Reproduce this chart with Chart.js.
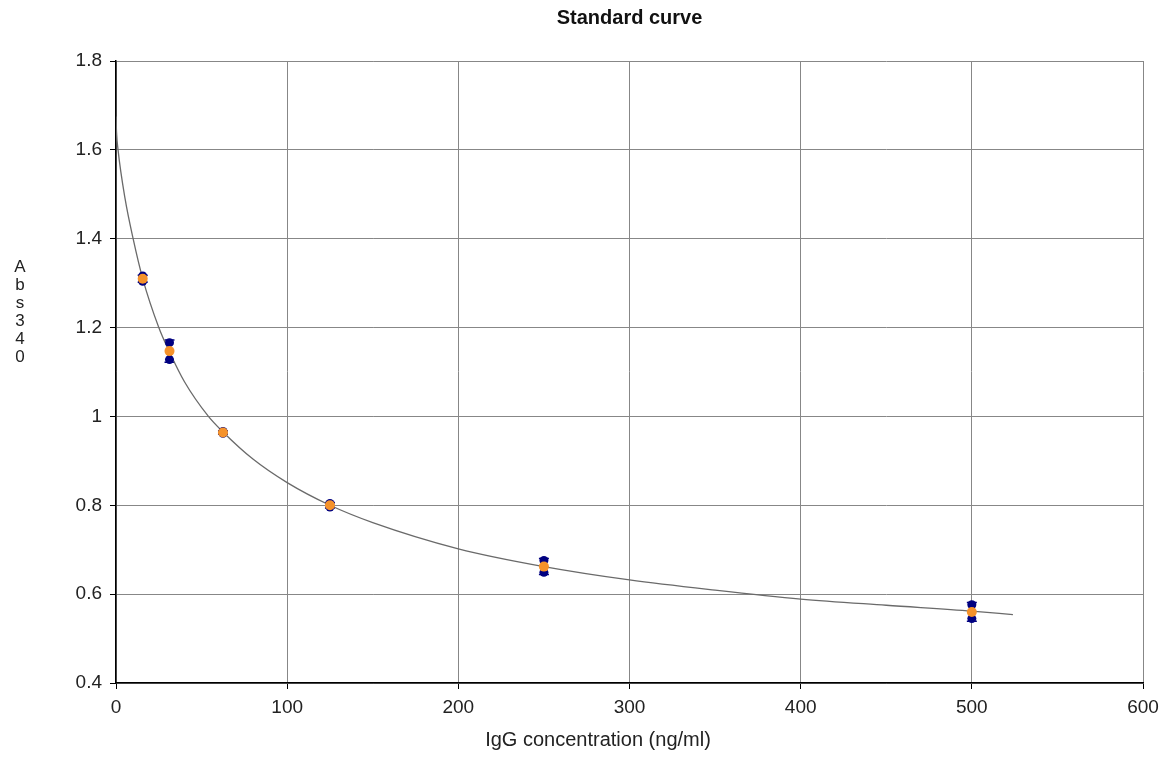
<!DOCTYPE html>
<html>
<head>
<meta charset="utf-8">
<title>Standard curve</title>
<script src="https://cdn.jsdelivr.net/npm/chart.js@4.4.1/dist/chart.umd.min.js"></script>
<style>
  html, body { margin: 0; padding: 0; background: #fff; }
  #wrap { width: 1168px; height: 761px; }
</style>
</head>
<body>
<div id="wrap"><canvas id="myChart" width="1168" height="761"></canvas></div>
<script>
  // Standards (ng/ml) and the absorbance readings
  const conc = [15.6, 31.25, 62.5, 125, 250, 500];
  const rep1 = [1.316, 1.166, 0.966, 0.804, 0.676, 0.576];
  const rep2 = [1.304, 1.128, 0.962, 0.796, 0.649, 0.545];
  const mean = [1.310, 1.147, 0.964, 0.800, 0.662, 0.560];
  const sd = [0.008, 0.025, 0.004, 0.006, 0.018, 0.021];

  // Fitted curve
  const fitX = [0, 0.3, 1.2, 5.3, 10, 15.6, 25, 31.25, 40, 54, 62.5, 80, 100, 125, 150, 200, 250, 300, 350, 400, 450, 500, 524];
  const fitY = [1.675, 1.64, 1.60, 1.49, 1.40, 1.31, 1.20, 1.145, 1.078, 1.00, 0.965, 0.904, 0.851, 0.80, 0.761, 0.702, 0.662, 0.632, 0.609, 0.589, 0.575, 0.562, 0.554];

  const xTicks = [0, 100, 200, 300, 400, 500, 600];
  const yTicks = [0.4, 0.6, 0.8, 1, 1.2, 1.4, 1.6, 1.8];
  const yTickLabels = ['0.4', '0.6', '0.8', '1', '1.2', '1.4', '1.6', '1.8'];

  const titleText = 'Standard curve';
  const xTitle = 'IgG concentration (ng/ml)';
  const yTitle = ['A', 'b', 's', '3', '4', '0'];

  const fontFamily = '"Liberation Sans", Arial, sans-serif';
  const pts = (xs, ys) => xs.map((v, i) => ({ x: v, y: ys[i] }));

  // error bars on the means, drawn under the markers
  const errorBars = {
    id: 'errorBars',
    beforeDatasetsDraw(chart) {
      const { ctx, scales: { x, y } } = chart;
      ctx.save();
      ctx.strokeStyle = '#000080';
      ctx.lineWidth = 1.5;
      conc.forEach((c, i) => {
        const px = x.getPixelForValue(c);
        const top = y.getPixelForValue(mean[i] + sd[i]);
        const bot = y.getPixelForValue(mean[i] - sd[i]);
        ctx.beginPath();
        ctx.moveTo(px, top); ctx.lineTo(px, bot);
        ctx.moveTo(px - 5, top); ctx.lineTo(px + 5, top);
        ctx.moveTo(px - 5, bot); ctx.lineTo(px + 5, bot);
        ctx.stroke();
      });
      ctx.restore();
    }
  };

  // axis titles: x title sits a bit left of centre, y title is stacked letters
  const axisTitles = {
    id: 'axisTitles',
    afterDraw(chart) {
      const { ctx, chartArea } = chart;
      ctx.save();
      ctx.fillStyle = '#222';
      ctx.textAlign = 'center';
      ctx.textBaseline = 'middle';
      ctx.font = '20px ' + fontFamily;
      ctx.fillText(xTitle, chartArea.left + 482, chartArea.bottom + 57);
      ctx.font = '17px ' + fontFamily;
      yTitle.forEach((ch, i) => ctx.fillText(ch, 20, chartArea.top + 206 + i * 18.1));
      ctx.restore();
    }
  };

  const ctx = document.getElementById('myChart').getContext('2d');

  const myChart = new Chart(ctx, {
    type: 'scatter',
    data: {
      datasets: [{
        label: 'Mean',
        data: pts(conc, mean),
        backgroundColor: '#f5922a',
        borderColor: '#f5922a',
        pointRadius: 5,
        borderWidth: 0
      }, {
        label: 'Replicate 1',
        data: pts(conc, rep1),
        backgroundColor: '#000080',
        borderColor: '#000080',
        pointRadius: 4.5,
        borderWidth: 0
      }, {
        label: 'Replicate 2',
        data: pts(conc, rep2),
        backgroundColor: '#000080',
        borderColor: '#000080',
        pointRadius: 4.5,
        borderWidth: 0
      }, {
        label: 'Fit',
        type: 'line',
        data: pts(fitX, fitY),
        borderColor: '#6a6a6a',
        borderWidth: 1.3,
        pointRadius: 0,
        fill: false,
        cubicInterpolationMode: 'monotone'
      }]
    },
    options: {
      responsive: false,
      animation: false,
      layout: { padding: { left: 0, right: 25, top: 0, bottom: 0 } },
      plugins: {
        legend: { display: false },
        tooltip: { enabled: false },
        title: {
          display: true,
          text: titleText,
          fullSize: false,
          color: '#111',
          font: { family: fontFamily, size: 20, weight: 'bold' },
          padding: { top: 6, bottom: 31 }
        }
      },
      scales: {
        x: {
          type: 'linear',
          min: 0,
          max: 600,
          afterBuildTicks: s => { s.ticks = xTicks.map(v => ({ value: v })); },
          afterFit: s => { s.height = 78; },
          grid: { color: '#878787', lineWidth: 1, tickLength: 6, tickColor: '#000' },
          border: { color: '#000', width: 1.5 },
          ticks: { color: '#222', padding: 7, maxRotation: 0, font: { family: fontFamily, size: 19 } }
        },
        y: {
          type: 'linear',
          min: 0.4,
          max: 1.8,
          afterBuildTicks: s => { s.ticks = yTicks.map(v => ({ value: v })); },
          afterFit: s => { s.width = 116; },
          grid: { color: '#878787', lineWidth: 1, tickLength: 6, tickColor: '#000' },
          border: { color: '#000', width: 1.5 },
          ticks: {
            color: '#222',
            padding: 8,
            font: { family: fontFamily, size: 19 },
            callback: (v, i) => yTickLabels[i]
          }
        }
      }
    },
    plugins: [errorBars, axisTitles]
  });
</script>
</body>
</html>
